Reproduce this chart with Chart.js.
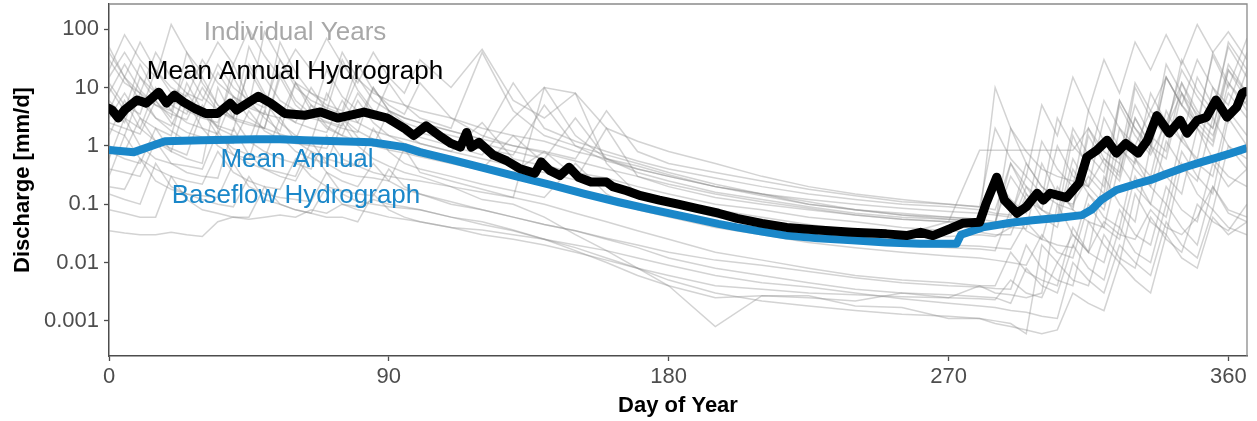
<!DOCTYPE html>
<html>
<head>
<meta charset="utf-8">
<script src="https://cdn.jsdelivr.net/npm/chart.js@4"></script>
<style>
  body { margin: 0; background: #fff; }
  #wrap { width: 1257px; height: 421px; }
</style>
</head>
<body>
<div id="wrap"><canvas id="hydro"></canvas></div>
<script>
// day grid shared by the individual years
const greyDays = [0, 5, 10, 15, 20, 25, 30, 35, 40, 45, 50, 55, 60, 65, 70, 75, 80, 85, 90, 95, 100,
  110, 120, 130, 140, 150, 160, 170, 180,
  195, 210, 225, 240, 255, 270,
  280, 285, 290, 295, 300, 305, 310, 315, 320, 325, 330, 335, 340, 345, 350, 355, 360, 366];

// discharge [mm/d] for each individual year
const years = [
  [20, 80, 30, 15, 120, 40, 18, 60, 25, 100, 35, 15, 45, 20, 70, 25, 12, 40, 15, 8, 30,
   10, 45, 6, 3, 8, 2, 1.2, 0.8,
   0.5, 0.3, 0.2, 0.15, 0.12, 0.1,
   0.09, 2, 0.6, 0.3, 5, 1.5, 15, 4, 30, 8, 60, 20, 80, 25, 120, 40, 90, 30],
  [5, 2.5, 15, 6, 3, 40, 12, 5, 3, 20, 7, 4, 2.5, 10, 4, 30, 9, 4, 2.5, 1.8, 1.4,
   1, 0.7, 3, 10, 1.5, 0.6, 0.4, 0.3,
   0.2, 0.15, 0.1, 0.08, 0.07, 0.06,
   0.055, 0.05, 0.3, 0.12, 0.08, 1, 0.3, 0.2, 3, 0.9, 0.5, 8, 2.5, 1.2, 15, 5, 2.5, 20],
  [2, 1.5, 8, 3, 1.8, 1.2, 5, 2, 25, 6, 3, 1.8, 12, 4, 2, 1.5, 6, 2.5, 1.5, 1.1, 0.9,
   0.6, 0.45, 0.35, 0.8, 0.3, 0.22, 0.16, 0.12,
   0.08, 0.06, 0.045, 0.035, 0.03, 0.028,
   0.03, 0.028, 0.04, 0.2, 0.08, 0.05, 0.6, 0.2, 0.1, 2, 0.6, 0.3, 4, 1.2, 0.6, 10, 3, 6],
  [0.4, 0.35, 0.3, 1.2, 0.5, 0.35, 0.3, 0.28, 2, 0.7, 0.4, 0.3, 0.25, 0.8, 0.35, 0.25, 0.2, 0.5, 0.25, 0.18, 0.15,
   0.1, 0.08, 0.06, 0.045, 0.035, 0.025, 0.018, 0.012,
   0.008, 0.006, 0.0045, 0.0035, 0.003, 0.0028,
   0.0026, 0.0025, 0.002, 0.008, 0.004, 0.003, 0.02, 0.008, 0.005, 0.04, 0.015, 0.01, 0.1, 0.04, 0.02, 0.2, 0.07, 0.05],
  [0.035, 0.032, 0.03, 0.03, 0.033, 0.03, 0.028, 0.05, 0.06, 0.055, 0.06, 0.065, 0.06, 0.08, 0.07, 0.1, 0.09, 0.12, 0.1, 0.09, 0.08,
   0.06, 0.05, 0.036, 0.025, 0.016, 0.01, 0.006, 0.004,
   0.0025, 0.0027, 0.0027, 0.0018, 0.0017, 0.0011,
   0.0011, 0.001, 0.0009, 0.0006, 0.02, 0.01, 0.03, 0.015, 0.05, 0.03, 0.025, 0.08, 0.04, 0.03, 0.06, 0.2, 0.08, 0.06],
  [1, 0.8, 3, 1.2, 0.8, 6, 2, 1, 0.7, 0.6, 4, 1.5, 0.8, 0.6, 0.5, 2.5, 1, 0.6, 0.45, 0.35, 0.3,
   0.2, 0.12, 0.1, 0.06, 0.03, 0.016, 0.008, 0.004,
   0.0008, 0.0027, 0.0025, 0.0022, 0.003, 0.0025,
   0.004, 0.003, 0.0028, 0.0025, 0.003, 0.1, 0.03, 0.015, 0.3, 0.1, 0.05, 1, 0.3, 0.15, 2, 0.6, 0.3, 0.2],
  [10, 4, 25, 8, 5, 3.5, 15, 5, 3, 50, 15, 6, 4, 3, 20, 7, 4, 3, 12, 5, 3,
   2, 40, 4, 1.5, 1, 0.7, 0.5, 0.35,
   0.22, 0.15, 0.11, 0.08, 0.065, 0.06,
   0.055, 10, 2, 0.8, 0.4, 0.3, 0.25, 0.2, 0.6, 0.35, 3, 1, 0.6, 8, 2.5, 1.2, 20, 6],
  [3, 8, 3, 2, 1.5, 12, 4, 2, 1.5, 1.2, 6, 2.5, 1.5, 1.2, 8, 3, 1.8, 1.3, 1, 0.8, 0.7,
   0.55, 0.4, 1.5, 0.5, 0.3, 0.2, 0.14, 0.1,
   0.07, 0.05, 0.04, 0.035, 0.03, 0.05,
   0.84, 0.84, 0.84, 0.84, 0.84, 0.84, 0.84, 2, 0.8, 0.5, 5, 1.5, 0.8, 12, 4, 2, 25, 8],
  [0.15, 0.12, 0.1, 0.5, 0.2, 0.15, 0.12, 0.1, 0.09, 0.3, 0.12, 0.1, 0.08, 0.07, 0.2, 0.1, 0.08, 0.07, 0.06, 0.055, 0.05,
   0.04, 0.036, 0.03, 0.025, 0.02, 0.016, 0.012, 0.009,
   0.006, 0.0045, 0.0038, 0.003, 0.0024, 0.002,
   0.0018, 0.0017, 0.0015, 0.0014, 0.0012, 0.0011, 0.01, 0.005, 0.003, 0.02, 0.01, 0.006, 0.05, 0.02, 0.012, 0.08, 0.04, 0.03],
  [30, 12, 8, 40, 15, 8, 6, 25, 10, 6, 4.5, 30, 10, 6, 4.5, 3.5, 15, 6, 4, 3, 2.5,
   1.8, 1.3, 12, 2, 1.2, 0.8, 0.55, 0.4,
   0.28, 0.2, 0.15, 0.12, 0.1, 0.09,
   0.08, 0.07, 0.065, 0.3, 0.15, 0.1, 0.08, 2, 0.6, 0.3, 10, 3, 1.5, 30, 9, 4, 50, 15],
  [1.5, 6, 2, 1.2, 0.9, 0.7, 4, 1.5, 0.9, 0.7, 0.6, 3, 1.2, 0.8, 0.6, 0.5, 0.45, 2, 0.8, 0.5, 0.4,
   0.3, 0.22, 0.17, 0.13, 0.5, 0.15, 0.08, 0.06,
   0.04, 0.03, 0.022, 0.018, 0.015, 0.013,
   0.012, 0.011, 0.01, 0.009, 0.03, 0.015, 0.012, 0.1, 0.04, 0.025, 0.3, 0.1, 0.06, 0.8, 0.3, 0.15, 3, 1],
  [6, 3, 2, 10, 4, 2.5, 2, 1.6, 7, 3, 2, 1.6, 1.3, 5, 2.2, 1.5, 1.2, 1, 4, 1.6, 1.1,
   0.8, 0.6, 0.45, 0.35, 0.26, 2, 0.3, 0.2,
   0.13, 0.1, 0.08, 0.065, 0.055, 0.05,
   0.047, 0.045, 0.5, 0.15, 0.08, 0.06, 1.5, 0.4, 0.2, 5, 1.5, 0.7, 2.5, 12, 3, 1.5, 8, 3],
  [0.8, 0.6, 0.5, 2, 0.8, 0.6, 0.5, 10, 3, 1.2, 0.8, 0.6, 0.5, 0.4, 1.5, 0.6, 0.45, 0.35, 0.3, 0.27, 0.25,
   0.2, 0.16, 0.13, 10, 8, 0.5, 0.15, 0.1,
   0.06, 0.045, 0.035, 0.028, 0.022, 0.02,
   0.019, 0.018, 0.017, 0.05, 0.025, 0.02, 0.018, 0.15, 0.06, 0.04, 0.6, 0.2, 0.1, 1.5, 0.5, 0.3, 4, 1.5],
  [0.08, 0.07, 0.06, 0.06, 0.3, 0.12, 0.08, 0.07, 0.06, 0.06, 0.2, 0.1, 0.08, 0.07, 0.06, 0.06, 0.05, 0.15, 0.08, 0.06, 0.05,
   0.04, 0.03, 0.025, 0.02, 0.015, 0.011, 0.008, 0.006,
   0.004, 0.0035, 0.003, 0.0028, 0.0026, 0.0025,
   0.0024, 0.0023, 0.005, 0.003, 0.0025, 0.01, 0.005, 0.004, 0.03, 0.012, 0.008, 0.06, 0.025, 0.015, 0.1, 0.05, 0.035, 0.1],
  [50, 15, 8, 5, 4, 20, 7, 4, 3, 2.5, 2, 15, 5, 3, 2.5, 2, 1.7, 10, 4, 2.5, 2,
   1.5, 1.1, 0.8, 0.6, 3, 0.6, 0.35, 0.25,
   0.16, 0.12, 0.09, 0.07, 0.06, 0.055,
   0.05, 0.045, 2, 0.5, 0.2, 0.12, 0.1, 0.3, 0.15, 6, 2, 0.8, 15, 5, 2, 40, 12, 5],
  [0.3, 1.5, 0.6, 0.4, 0.3, 0.25, 0.22, 0.8, 0.35, 0.25, 0.2, 0.18, 0.6, 0.3, 0.2, 0.17, 0.15, 0.14, 0.4, 0.2, 0.15,
   0.11, 0.08, 0.06, 0.045, 0.035, 0.026, 0.02, 0.015,
   0.011, 0.009, 0.007, 0.0055, 0.0045, 0.004,
   0.0038, 0.0036, 0.0035, 0.02, 0.008, 0.005, 0.004, 0.05, 0.02, 0.01, 0.15, 0.05, 0.03, 0.5, 0.15, 0.08, 1, 0.4],
  [12, 5, 3.5, 20, 8, 4, 3, 2.5, 15, 5, 3.5, 60, 18, 8, 5, 4, 25, 9, 5, 3.5, 12,
   3, 1.5, 1, 0.8, 0.6, 4, 0.8, 0.5,
   0.35, 0.25, 0.18, 0.14, 0.11, 0.1,
   0.09, 0.08, 0.5, 0.2, 0.12, 3, 1, 0.5, 6, 2, 1, 4, 15, 5, 2.5, 35, 10, 70],
  [4, 15, 6, 3, 2.2, 8, 3.5, 2.2, 1.8, 25, 8, 3.5, 2.5, 2, 1.7, 6, 2.5, 1.8, 1.5, 1.3, 1.1,
   0.8, 2.5, 0.6, 0.45, 0.35, 0.28, 0.2, 0.15,
   0.1, 0.08, 0.06, 0.05, 0.04, 0.035,
   0.033, 0.03, 0.03, 0.15, 0.06, 0.04, 0.4, 0.15, 0.08, 1, 0.4, 0.2, 2, 8, 2, 1, 12, 4],
  [0.6, 3, 1, 0.6, 0.5, 0.45, 0.4, 1.8, 0.7, 0.5, 0.4, 0.35, 0.3, 1.2, 0.5, 0.35, 0.3, 0.28, 0.25, 0.9, 0.35,
   0.25, 0.18, 0.13, 0.1, 0.07, 0.05, 0.035, 0.025,
   0.015, 0.011, 0.008, 0.006, 0.005, 0.0045,
   0.004, 0.004, 0.015, 0.007, 0.005, 0.004, 0.04, 0.015, 0.01, 0.08, 0.03, 0.02, 0.2, 0.08, 0.05, 0.5, 0.2, 0.4],
  [8, 25, 9, 5, 3.5, 2.8, 10, 4, 2.8, 2.3, 2, 18, 6, 3.5, 2.6, 2.2, 8, 3.5, 2.4, 2, 1.7,
   1.2, 0.9, 0.7, 5, 1, 0.55, 0.4, 0.3,
   0.2, 0.14, 0.1, 0.08, 0.065, 0.055,
   0.05, 0.3, 0.12, 0.07, 1.2, 0.4, 0.2, 4, 1.2, 0.6, 12, 4, 2, 20, 7, 3, 60, 20],
  [40, 15, 60, 20, 10, 7, 30, 12, 7, 5, 90, 30, 12, 8, 6, 40, 14, 8, 6, 5, 4,
   3, 2, 1.5, 1.2, 0.8, 0.6, 0.45, 0.32,
   0.2, 0.15, 0.12, 0.1, 0.085, 0.075,
   0.07, 0.065, 0.06, 0.5, 0.2, 0.12, 2, 0.7, 0.35, 6, 2, 1, 15, 5, 30, 10, 5, 40],
  [2.5, 2, 1.6, 6, 2.5, 1.7, 1.4, 1.2, 1.1, 4, 1.8, 1.3, 1.1, 1, 0.9, 3, 1.4, 1, 0.85, 0.75, 0.65,
   0.5, 0.38, 0.3, 0.22, 0.17, 0.13, 0.1, 0.075,
   0.05, 0.038, 0.03, 0.024, 0.02, 0.018,
   0.017, 0.016, 0.08, 0.035, 0.025, 0.2, 0.08, 0.05, 0.04, 0.5, 0.2, 0.1, 1.2, 0.45, 0.25, 3, 1, 0.6],
  [15, 40, 15, 8, 6, 4.5, 4, 18, 7, 4.5, 3.5, 3, 12, 5, 3.5, 3, 2.5, 10, 4, 3, 2.5,
   1.8, 1.3, 1, 0.75, 0.55, 0.4, 0.3, 0.22,
   0.15, 0.11, 0.085, 0.065, 0.055, 0.05,
   0.045, 0.042, 0.04, 0.038, 0.5, 0.15, 0.09, 1.5, 0.5, 0.25, 3, 1, 25, 8, 3.5, 2, 20, 8],
  [0.2, 0.18, 0.6, 0.25, 0.18, 0.15, 0.14, 0.13, 0.5, 0.2, 0.15, 0.13, 0.12, 0.11, 0.35, 0.15, 0.11, 0.1, 0.09, 0.085, 0.08,
   0.06, 0.045, 0.035, 0.025, 0.018, 0.012, 0.008, 0.005,
   0.003, 0.0022, 0.0018, 0.0015, 0.0013, 0.0012,
   0.0011, 0.0009, 0.0008, 0.0007, 0.0006, 0.0007, 0.003, 0.002, 0.0015, 0.01, 0.005, 0.003, 0.03, 0.012, 0.008, 0.06, 0.03, 0.05],
];

// mean annual hydrograph
const meanDays = [0, 1, 3, 5, 9, 12, 16, 18.5, 21, 24, 27.5, 31, 35, 39, 41, 48, 52, 56.5, 63, 68, 73.5, 82, 89.5,
  95, 98, 102, 107, 110, 113, 115, 116.5, 119, 123.5, 128, 132, 137, 139, 141.7, 145, 148, 151, 155, 160, 162,
  166.5, 171, 177, 183, 189, 196, 202, 210, 218, 228, 239, 250, 256.5, 261, 265, 270.5, 274.5, 280, 282, 285.5,
  288, 292, 295, 298.5, 300.5, 302.7, 308, 312, 314.5, 317.7, 321, 324, 327, 331, 334, 337, 341, 344.5, 346.7,
  350, 353, 356, 359.6, 362.7, 364.5, 365.5];
const meanQ = [4.4, 4.1, 3.0, 4.1, 6.1, 5.4, 8.3, 5.4, 7.4, 5.6, 4.4, 3.6, 3.6, 5.4, 4.1, 7.1, 5.4, 3.6, 3.35, 3.8, 3.0, 3.8, 3.0,
  2.0, 1.5, 2.2, 1.4, 1.1, 0.95, 1.7, 0.95, 1.15, 0.7, 0.55, 0.41, 0.34, 0.53, 0.38, 0.31, 0.43, 0.29, 0.24, 0.24, 0.2,
  0.17, 0.14, 0.117, 0.1, 0.085, 0.07, 0.057, 0.047, 0.04, 0.036, 0.033, 0.031, 0.029, 0.033, 0.029, 0.038, 0.047, 0.049, 0.1, 0.29,
  0.117, 0.07, 0.09, 0.154, 0.117, 0.154, 0.13, 0.23, 0.64, 0.84, 1.25, 0.75, 1.1, 0.75, 1.25, 3.3, 1.65, 2.75, 1.65,
  2.75, 3.1, 6.1, 3.1, 4.6, 8.0, 8.5];

// mean annual baseflow hydrograph
const baseDays = [0, 8, 18, 30, 47, 55, 63, 84.5, 95, 100, 110, 121, 131, 142.7, 153, 164, 175, 186, 196, 202, 210, 218,
  228, 239, 250, 261, 272.6, 274, 281, 290, 297, 305, 313, 316, 319, 324, 330, 335, 340, 346, 351, 356, 361, 366];
const baseQ = [0.85, 0.78, 1.2, 1.25, 1.3, 1.3, 1.25, 1.15, 0.95, 0.78, 0.58, 0.41, 0.3, 0.21, 0.15, 0.108, 0.08, 0.06, 0.046, 0.04, 0.034, 0.029,
  0.026, 0.024, 0.022, 0.021, 0.021, 0.03, 0.04, 0.048, 0.053, 0.058, 0.065, 0.08, 0.117, 0.175, 0.22, 0.26, 0.33, 0.43, 0.52, 0.62, 0.75, 0.92];

const xTicks = [0, 90, 180, 270, 360];
const yTicks = [0.001, 0.01, 0.1, 1, 10, 100];
const yTickLabels = ["0.001", "0.01", "0.1", "1", "10", "100"];

const BLUE = "#1a87c9";
const pts = (xs, ys) => xs.map((x, i) => ({ x: x, y: ys[i] }));

const datasets = [
  {
    label: "Mean Annual Hydrograph",
    data: pts(meanDays, meanQ),
    borderColor: "#000",
    borderWidth: 9,
    borderJoinStyle: "round",
    borderCapStyle: "round",
    order: 0,
  },
  {
    label: "Mean Annual Baseflow Hydrograph",
    data: pts(baseDays, baseQ),
    borderColor: BLUE,
    borderWidth: 8,
    borderJoinStyle: "round",
    order: 1,
  },
];
years.forEach((q, i) => {
  datasets.push({
    label: "year " + (i + 1),
    data: pts(greyDays, q),
    borderColor: "rgba(140,140,140,0.38)",
    borderWidth: 1.5,
    order: 2,
  });
});

// panel frame and in-plot labels
const annotate = {
  id: "annotate",
  afterDraw(chart) {
    const { ctx, chartArea: a } = chart;
    ctx.save();
    ctx.strokeStyle = "#8a8a8a";
    ctx.lineWidth = 1.3;
    ctx.beginPath();
    ctx.moveTo(a.left, a.top);
    ctx.lineTo(a.right, a.top);
    ctx.lineTo(a.right, a.bottom);
    ctx.stroke();

    ctx.font = "26px 'Liberation Sans', Arial, sans-serif";
    ctx.textAlign = "center";
    ctx.textBaseline = "middle";
    ctx.fillStyle = "#a8a8a8";
    ctx.fillText("Individual Years", 295, 33);
    ctx.fillStyle = "#000";
    ctx.fillText("Mean Annual Hydrograph", 295, 72);
    ctx.fillStyle = BLUE;
    ctx.fillText("Mean Annual", 297, 160);
    ctx.fillText("Baseflow Hydrograph", 296, 196);
    ctx.restore();
  },
};

new Chart(document.getElementById("hydro"), {
  type: "line",
  data: { datasets },
  plugins: [annotate],
  options: {
    responsive: true,
    maintainAspectRatio: false,
    animation: false,
    layout: { padding: { top: 4, right: 10, left: 0, bottom: 0 } },
    elements: { point: { radius: 0 }, line: { tension: 0 } },
    plugins: { legend: { display: false }, tooltip: { enabled: false } },
    scales: {
      x: {
        type: "linear",
        min: 0,
        max: 366,
        afterBuildTicks: (s) => { s.ticks = xTicks.map((v) => ({ value: v })); },
        afterFit: (s) => {
          s.height = 65;
          s.paddingLeft = 0;
          s.paddingRight = 0;
        },
        ticks: {
          color: "#4d4d4d",
          font: { family: "'Liberation Sans', Arial", size: 22 },
          padding: 3,
          maxRotation: 0,
        },
        grid: { drawOnChartArea: false, tickLength: 5, color: "#4d4d4d", tickWidth: 1.3 },
        border: { color: "#4d4d4d", width: 1.5 },
        title: {
          display: true,
          text: "Day of Year",
          color: "#000",
          font: { family: "'Liberation Sans', Arial", size: 22, weight: "bold" },
          padding: { top: 0, bottom: 2 },
        },
      },
      y: {
        type: "logarithmic",
        min: 0.00025,
        max: 270,
        afterBuildTicks: (s) => { s.ticks = yTicks.map((v) => ({ value: v })); },
        afterFit: (s) => {
          s.width = 109;
          s.paddingTop = 0;
          s.paddingBottom = 0;
        },
        ticks: {
          color: "#4d4d4d",
          font: { family: "'Liberation Sans', Arial", size: 22 },
          padding: 5,
          callback: (v) => yTickLabels[yTicks.indexOf(v)],
        },
        grid: { drawOnChartArea: false, tickLength: 5, color: "#4d4d4d", tickWidth: 1.3 },
        border: { color: "#4d4d4d", width: 1.5 },
        title: {
          display: true,
          text: "Discharge [mm/d]",
          color: "#000",
          font: { family: "'Liberation Sans', Arial", size: 22, weight: "bold" },
          padding: { top: 10, bottom: 0 },
        },
      },
    },
  },
});
</script>
</body>
</html>
